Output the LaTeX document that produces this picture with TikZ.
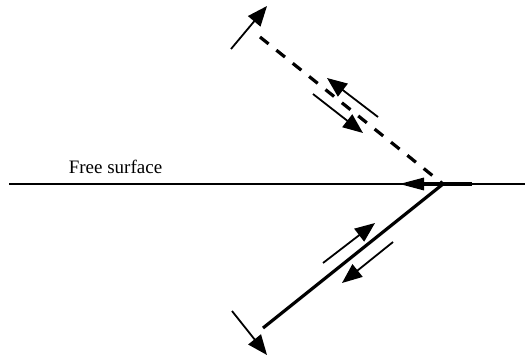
\documentclass[tikz,border=0pt]{standalone}
\usepackage{fontspec}
\setmainfont{Liberation Serif}
\usetikzlibrary{arrows.meta}
\begin{document}
\begin{tikzpicture}[x=1pt,y=-1pt,
  thinarrow/.style={line width=1.8pt,-{Triangle[length=20pt,width=16pt]}},
  thickline/.style={line width=3.2pt},
  dashline/.style={line width=3.2pt,dash pattern=on 11pt off 10pt},
  surface/.style={line width=1.2pt}]
\useasboundingbox (0,0) rectangle (525,359);
% key points
\coordinate (J) at (443,184);
\coordinate (Dend) at (260,37);
\coordinate (Send) at (263,328);
\coordinate (Sl) at (9,184);
\coordinate (Sr) at (525,184);
\coordinate (Hs) at (472,184);
\coordinate (Ht) at (399,184);
% free surface
\draw[surface] (Sl) -- (Sr);
\node[anchor=base,font=\fontsize{19}{23}\selectfont,inner sep=0pt] (label) at (115.5,173) {Free surface};
% rays
\draw[dashline] (Dend) -- (J);
\draw[thickline] (Send) -- (J);
\draw[line width=3.2pt,-{Triangle[length=25pt,width=12pt]}] (Hs) -- (Ht);
% arrows at the ray ends
\coordinate (a1s) at (231,49);  \coordinate (a1e) at (267,6);
\coordinate (a2s) at (232,311); \coordinate (a2e) at (267,355);
\draw[thinarrow] (a1s) -- (a1e);
\draw[thinarrow] (a2s) -- (a2e);
% arrows along the dashed ray
\coordinate (b1s) at (378,117); \coordinate (b1e) at (327,78);
\coordinate (b2s) at (313,94);  \coordinate (b2e) at (363,133);
\draw[thinarrow] (b1s) -- (b1e);
\draw[thinarrow] (b2s) -- (b2e);
% arrows along the solid ray
\coordinate (c1s) at (323,263); \coordinate (c1e) at (375,223);
\coordinate (c2s) at (393,242); \coordinate (c2e) at (342,283);
\draw[thinarrow] (c1s) -- (c1e);
\draw[thinarrow] (c2s) -- (c2e);
\end{tikzpicture}
\end{document}
